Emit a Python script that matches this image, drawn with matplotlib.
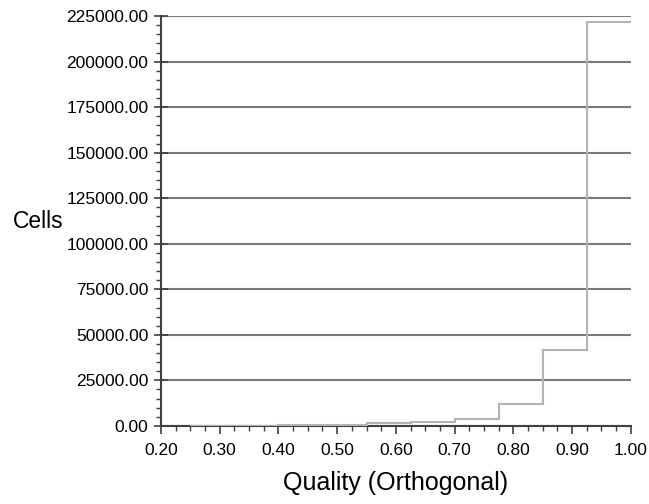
import matplotlib
matplotlib.use('Agg')
import matplotlib.pyplot as plt
from matplotlib.ticker import MultipleLocator, FormatStrFormatter

# histogram of cell quality
bin_edges = [0.25, 0.325, 0.40, 0.475, 0.55, 0.625, 0.70, 0.775, 0.85, 0.925, 1.0]
cell_counts = [0, 0, 300, 700, 1500, 2400, 4000, 12000, 41800, 221900]

plt.rcParams['font.family'] = ['Liberation Sans', 'DejaVu Sans']

fig = plt.figure(figsize=(6.49, 5.04), dpi=100)
ax = fig.add_axes([0.248, 0.155, 0.724, 0.813])

ax.stairs(cell_counts, bin_edges, baseline=None, color='#b4b4b4', linewidth=1.5, zorder=3)

ax.set_xlim(0.2, 1.0)
ax.set_ylim(0, 225000)
ax.xaxis.set_major_locator(MultipleLocator(0.1))
ax.xaxis.set_minor_locator(MultipleLocator(0.025))
ax.yaxis.set_major_locator(MultipleLocator(25000))
ax.yaxis.set_minor_locator(MultipleLocator(5000))
ax.xaxis.set_major_formatter(FormatStrFormatter('%.2f'))
ax.yaxis.set_major_formatter(FormatStrFormatter('%.2f'))

ax.grid(axis='y', which='major', color='#7a7a7a', linewidth=1.5, zorder=1)
ax.set_axisbelow(True)
for side in ['top', 'right']:
    ax.spines[side].set_visible(False)
for side in ['left', 'bottom']:
    ax.spines[side].set_color('#404040')
    ax.spines[side].set_linewidth(1.5)

ax.tick_params(which='major', length=6, width=1.2, color='#404040', labelsize=12.5, pad=6)
ax.tick_params(which='minor', length=3.5, width=1.0, color='#404040')
ax.tick_params(axis='y', which='major', direction='inout', length=10, pad=4)

ax.set_xlabel('Quality (Orthogonal)', fontsize=18, labelpad=10)
fig.text(0.02, 0.56, 'Cells', fontsize=16.5, ha='left', va='center')

fig.savefig('out.png', dpi=100)
